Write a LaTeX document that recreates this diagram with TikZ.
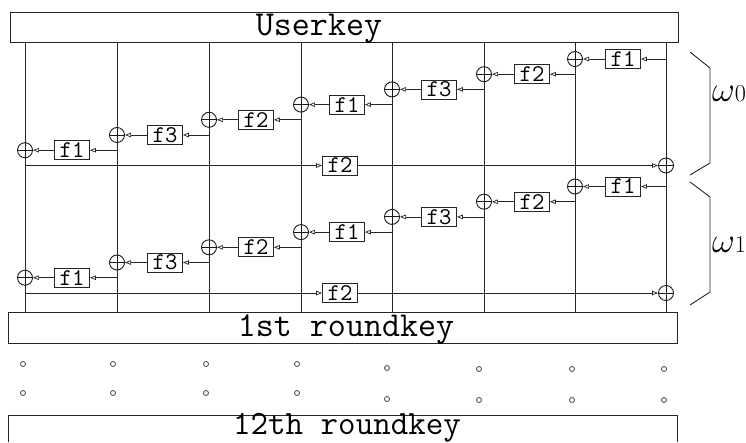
\documentclass[tikz,border=0pt]{standalone}
\usepackage{fontspec}
\usetikzlibrary{arrows.meta}
\begin{document}
\begin{tikzpicture}[x=1pt,y=-1pt,
  ln/.style={line width=0.8pt, draw=black!85},
  arr/.style={ln, -{Triangle[open,length=6pt,width=4.5pt,line width=0.7pt]}},
  fbox/.style={draw=black!85, line width=0.8pt, minimum width=35pt, minimum height=19pt, inner sep=0pt, font=\fontsize{24}{24}\selectfont\ttfamily},
  xorn/.style={circle, draw=black!90, line width=0.9pt, minimum size=15pt, inner sep=0pt,
    path picture={\draw[line width=0.9pt] (path picture bounding box.north) -- (path picture bounding box.south) (path picture bounding box.west) -- (path picture bounding box.east);}},
  keybox/.style={draw=black!85, line width=0.8pt, inner sep=0pt},
  keytxt/.style={font=\fontsize{35}{35}\selectfont\ttfamily, inner sep=0pt, anchor=base},
  dotn/.style={circle, draw=black!75, line width=0.8pt, minimum size=5pt, inner sep=0pt},
  brc/.style={line width=0.9pt, draw=black!85},
  omg/.style={anchor=base west, inner sep=0pt, font=\fontsize{22}{22}\selectfont}
]
\useasboundingbox (0,0) rectangle (746,442);

% key boxes
\node[keybox, minimum width=668pt, minimum height=30pt] (uk) at (344,27) {};
\node[keytxt] (ukt) at (319,35) {Userkey};
\node[keybox, minimum width=669pt, minimum height=31pt] (rk1) at (342.5,327.5) {};
\node[keytxt] (rk1t) at (346,336) {1st roundkey};
\draw[ln] (8,442) |- (677,415) -- (677,442);
\node[keytxt, font=\fontsize{34}{34}\selectfont\ttfamily] (rk12t) at (347,434.5) {12th roundkey};

% vertical lines
\foreach \x [count=\i] in {25,117,209,301,392,484,575,666} {
  \coordinate (t\i) at (\x,42);
  \coordinate (u\i) at (\x,312);
  \draw[ln] (t\i) -- (u\i);
}

% ladders
\foreach \h/\yo in {a/0, b/127.5} {
  \foreach \k/\xs/\xd/\fx/\lab in {1/666/575/623/f1, 2/575/484/532/f2, 3/484/392/439/f3, 4/392/301/347/f1, 5/301/209/256/f2, 6/209/117/165/f3, 7/117/25/72/f1} {
    \pgfmathsetmacro\yy{59+15.2*(\k-1)+\yo}
    \coordinate (s\h\k) at (\xs,\yy);
    \node[fbox] (f\h\k) at (\fx,\yy) {\lab};
    \node[xorn] (x\h\k) at (\xd,\yy) {};
    \draw[arr] (s\h\k) -- (f\h\k);
    \draw[arr] (f\h\k) -- (x\h\k);
  }
  \pgfmathsetmacro\yl{165.5+\yo}
  \coordinate (s\h8) at (25,\yl);
  \node[fbox] (f\h8) at (340,\yl) {f2};
  \node[xorn] (x\h8) at (666,\yl) {};
  \draw[arr] (s\h8) -- (f\h8);
  \draw[arr] (f\h8) -- (x\h8);
}

% braces
\coordinate (ba1) at (690,52); \coordinate (ba2) at (710,68);
\coordinate (ba3) at (710,163); \coordinate (ba4) at (690,175);
\draw[brc] (ba1) -- (ba2) -- (ba3) -- (ba4);
\coordinate (bb1) at (690,182); \coordinate (bb2) at (710,197);
\coordinate (bb3) at (710,292); \coordinate (bb4) at (690,305);
\draw[brc] (bb1) -- (bb2) -- (bb3) -- (bb4);
\node[omg] (w0) at (712,101) {\scalebox{1.7}{$\omega$}\scalebox{1.1}{0}};
\node[omg] (w1) at (712,252) {\scalebox{1.7}{$\omega$}\scalebox{1.1}{1}};

% dots
\foreach \x/\ya/\yb [count=\i] in {23/364/393, 113/364/393, 206/364/393, 297/364/393, 387/368/399, 479/369/400, 572/369/400, 664/369/400} {
  \node[dotn] (da\i) at (\x,\ya) {};
  \node[dotn] (db\i) at (\x,\yb) {};
}
\end{tikzpicture}
\end{document}
